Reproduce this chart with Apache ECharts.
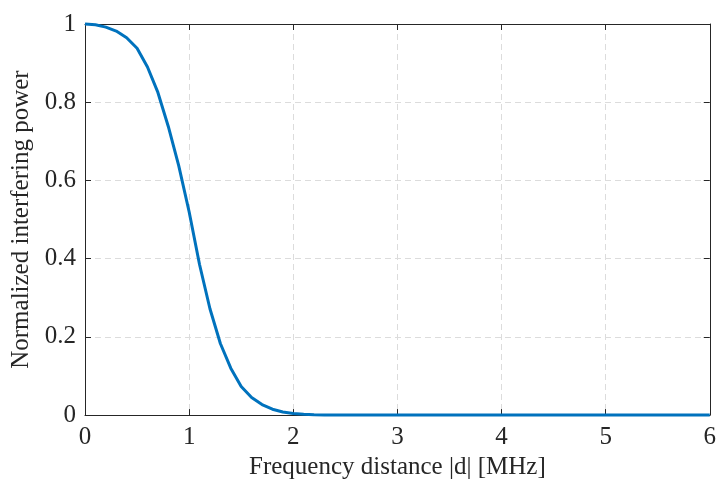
<!DOCTYPE html>
<html>
<head>
<meta charset="utf-8">
<script src="https://cdn.jsdelivr.net/npm/echarts@6/dist/echarts.min.js"></script>
<style>
  html, body { margin: 0; padding: 0; background: #fff; }
  #chart { width: 719px; height: 485px; }
</style>
</head>
<body>
<div id="chart"></div>
<script>
// Frequency distance |d| in MHz, sampled every 0.1 MHz
const distance = [
  0.0, 0.1, 0.2, 0.3, 0.4, 0.5, 0.6, 0.7, 0.8, 0.9,
  1.0, 1.1, 1.2, 1.3, 1.4, 1.5, 1.6, 1.7, 1.8, 1.9,
  2.0, 2.1, 2.2, 2.3, 2.4, 2.5, 2.6, 2.7, 2.8, 2.9,
  3.0, 3.1, 3.2, 3.3, 3.4, 3.5, 3.6, 3.7, 3.8, 3.9,
  4.0, 4.1, 4.2, 4.3, 4.4, 4.5, 4.6, 4.7, 4.8, 4.9,
  5.0, 5.1, 5.2, 5.3, 5.4, 5.5, 5.6, 5.7, 5.8, 5.9,
  6.0
];

// Normalized interfering power at each distance
const power = [
  1.000, 0.998, 0.992, 0.982, 0.965, 0.938, 0.890, 0.825, 0.738, 0.638,
  0.520, 0.385, 0.272, 0.183, 0.120, 0.073, 0.045, 0.027, 0.015, 0.008,
  0.004, 0.002, 0.001, 0.0005, 0.0002, 0.0001, 0, 0, 0, 0,
  0, 0, 0, 0, 0, 0, 0, 0, 0, 0,
  0, 0, 0, 0, 0, 0, 0, 0, 0, 0,
  0, 0, 0, 0, 0, 0, 0, 0, 0, 0,
  0
];

const xTicks = [0, 1, 2, 3, 4, 5, 6];
const yTicks = [0, 0.2, 0.4, 0.6, 0.8, 1];

const xLabel = 'Frequency distance |d| [MHz]';
const yLabel = 'Normalized interfering power';

const font = '"Liberation Serif", "DejaVu Serif", serif';
const axisColor = '#262626';
const gridLine = { show: true, lineStyle: { color: '#dcdcdc', type: [6, 4], width: 1 } };

const fmtY = v => (Math.abs(v) < 1e-9 ? '0' : String(+v.toFixed(1)));

const chart = echarts.init(document.getElementById('chart'), null, { renderer: 'canvas' });

chart.setOption({
  animation: false,
  backgroundColor: '#ffffff',
  grid: { left: 85, right: 5, top: 24, bottom: 68, containLabel: false },
  xAxis: [
    {
      type: 'value',
      min: xTicks[0], max: xTicks[xTicks.length - 1], interval: 1,
      position: 'bottom',
      name: xLabel, nameLocation: 'middle', nameGap: 34,
      nameTextStyle: { fontFamily: font, fontSize: 25, color: axisColor },
      axisLine: { show: true, onZero: false, lineStyle: { color: axisColor, width: 1 } },
      axisTick: { show: true, inside: true, length: 6, lineStyle: { color: axisColor } },
      axisLabel: { fontFamily: font, fontSize: 25, color: axisColor, margin: 10 },
      splitLine: gridLine
    },
    {
      type: 'value',
      min: xTicks[0], max: xTicks[xTicks.length - 1], interval: 1,
      position: 'top',
      axisLine: { show: true, onZero: false, lineStyle: { color: axisColor, width: 1 } },
      axisTick: { show: true, inside: true, length: 6, lineStyle: { color: axisColor } },
      axisLabel: { show: false },
      splitLine: { show: false }
    }
  ],
  yAxis: [
    {
      type: 'value',
      min: yTicks[0], max: yTicks[yTicks.length - 1], interval: 0.2,
      position: 'left',
      name: yLabel, nameLocation: 'middle', nameGap: 46, nameRotate: 90,
      nameTextStyle: { fontFamily: font, fontSize: 25, color: axisColor },
      axisLine: { show: true, onZero: false, lineStyle: { color: axisColor, width: 1 } },
      axisTick: { show: true, inside: true, length: 6, lineStyle: { color: axisColor } },
      axisLabel: { fontFamily: font, fontSize: 25, color: axisColor, margin: 9, formatter: fmtY },
      splitLine: gridLine
    },
    {
      type: 'value',
      min: yTicks[0], max: yTicks[yTicks.length - 1], interval: 0.2,
      position: 'right',
      axisLine: { show: true, onZero: false, lineStyle: { color: axisColor, width: 1 } },
      axisTick: { show: true, inside: true, length: 6, lineStyle: { color: axisColor } },
      axisLabel: { show: false },
      splitLine: { show: false }
    }
  ],
  series: [
    {
      type: 'line',
      xAxisIndex: 0,
      yAxisIndex: 0,
      data: distance.map((d, i) => [d, power[i]]),
      showSymbol: false,
      smooth: false,
      clip: false,
      lineStyle: { color: '#0072BD', width: 3 },
      z: 5
    }
  ]
});
</script>
</body>
</html>
